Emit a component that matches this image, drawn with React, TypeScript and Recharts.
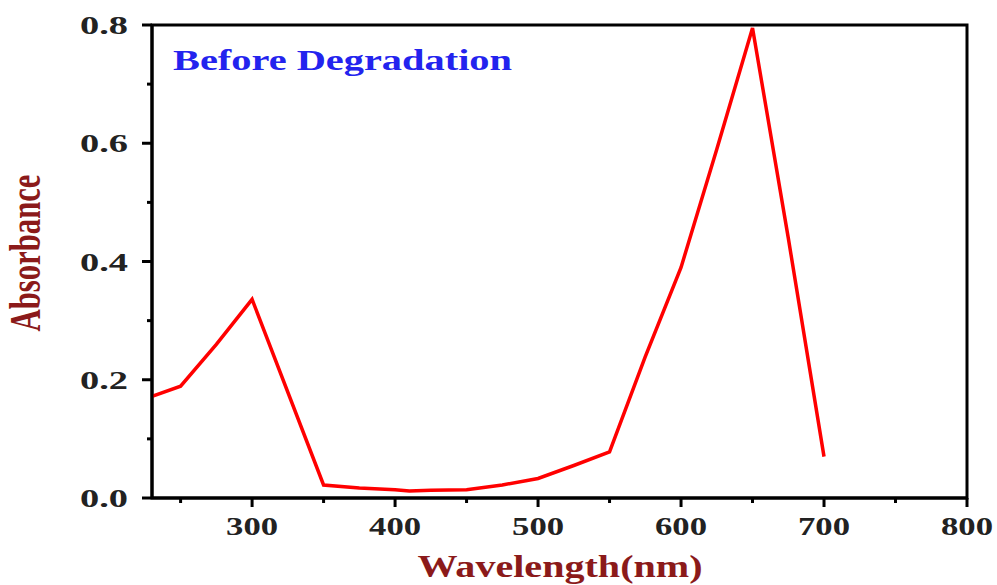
import { Line, LineChart, ReferenceArea, XAxis, YAxis } from "recharts";

const wavelengths = [230, 250, 275, 300, 350, 375, 400, 410, 425, 450, 475, 500, 525, 550, 575, 600, 625, 650, 675, 700];
const absorbance = [0.172, 0.189, 0.26, 0.336, 0.022, 0.017, 0.014, 0.012, 0.013, 0.014, 0.022, 0.033, 0.055, 0.078, 0.239, 0.39, 0.59, 0.795, 0.44, 0.07];

const xTicks = [250, 300, 350, 400, 450, 500, 550, 600, 650, 700, 750, 800];
const yTicks = [0, 0.1, 0.2, 0.3, 0.4, 0.5, 0.6, 0.7, 0.8];

const title = "Before Degradation";
const xTitle = "Wavelength(nm)";
const yTitle = "Absorbance";

const data = wavelengths.map((w, i) => ({ w, a: absorbance[i] }));

const FONT = "'Liberation Serif', 'Times New Roman', serif";

function XTick(props: any) {
  const { x, y, payload } = props;
  const major = payload.value % 100 === 0;
  return (
    <g>
      <line x1={x} y1={y} x2={x} y2={y + (major ? 9 : 5)} stroke="#000" strokeWidth={3} />
      {major && (
        <text
          x={x}
          y={y + 37}
          textAnchor="middle"
          fontFamily={FONT}
          fontWeight="bold"
          fontSize={25}
          fill="#222"
          textLength={52}
          lengthAdjust="spacingAndGlyphs"
        >
          {payload.value}
        </text>
      )}
    </g>
  );
}

function YTick(props: any) {
  const { x, y, payload } = props;
  const major = Math.round(payload.value * 10) % 2 === 0;
  return (
    <g>
      <line x1={x - (major ? 10 : 5)} y1={y} x2={x} y2={y} stroke="#000" strokeWidth={3} />
      {major && (
        <text
          x={x - 24}
          y={y + 9}
          textAnchor="end"
          fontFamily={FONT}
          fontWeight="bold"
          fontSize={26}
          fill="#222"
          textLength={48}
          lengthAdjust="spacingAndGlyphs"
        >
          {payload.value.toFixed(1)}
        </text>
      )}
    </g>
  );
}

export default function App() {
  return (
    <div style={{ position: "absolute", left: 0, top: 0, background: "#fff" }}>
      <LineChart width={997} height={585} data={data} margin={{ top: 25, right: 30, bottom: 47, left: 92 }}>
        <XAxis
          dataKey="w"
          type="number"
          domain={[230, 800]}
          ticks={xTicks}
          interval={0}
          tickSize={0}
          tickMargin={0}
          tickLine={false}
          tick={<XTick />}
          height={40}
          axisLine={{ stroke: "#000", strokeWidth: 3 }}
          allowDataOverflow
        />
        <YAxis
          type="number"
          domain={[0, 0.8]}
          ticks={yTicks}
          interval={0}
          tickSize={0}
          tickMargin={0}
          tickLine={false}
          tick={<YTick />}
          width={60}
          axisLine={{ stroke: "#000", strokeWidth: 3 }}
          allowDataOverflow
        />
        <ReferenceArea x1={230} x2={800} y1={0} y2={0.8} fill="none" stroke="#000" strokeWidth={3} />
        <Line
          type="linear"
          dataKey="a"
          stroke="#ff0000"
          strokeWidth={3.5}
          dot={false}
          isAnimationActive={false}
        />
        <text
          x={173}
          y={70}
          fontFamily={FONT}
          fontWeight="bold"
          fontSize={30}
          fill="#2323ee"
          textLength={339}
          lengthAdjust="spacingAndGlyphs"
        >
          {title}
        </text>
        <text
          x={560}
          y={577}
          textAnchor="middle"
          fontFamily={FONT}
          fontWeight="bold"
          fontSize={32}
          fill="#8b1a1a"
          textLength={285}
          lengthAdjust="spacingAndGlyphs"
        >
          {xTitle}
        </text>
        <text
          transform="translate(40,253) scale(1.4,1) rotate(-90)"
          x={0}
          y={0}
          textAnchor="middle"
          fontFamily={FONT}
          fontWeight="bold"
          fontSize={31}
          fill="#8b1a1a"
          textLength={157}
          lengthAdjust="spacingAndGlyphs"
        >
          {yTitle}
        </text>
      </LineChart>
    </div>
  );
}
